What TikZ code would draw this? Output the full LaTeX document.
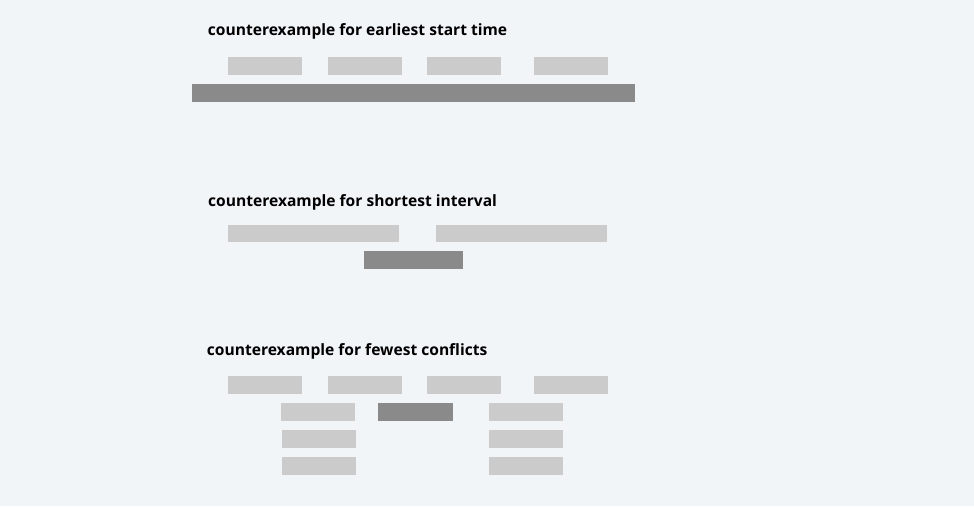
\documentclass[tikz,border=0pt]{standalone}
\usepackage{fontspec}
\setmainfont{Open Sans}
\definecolor{bg}{HTML}{F2F5F8}
\definecolor{barlight}{HTML}{CBCBCB}
\definecolor{bardark}{HTML}{8A8A8A}
\begin{document}
\begin{tikzpicture}[x=1pt,y=-1pt,
  title/.style={anchor=base west,inner sep=0pt,font=\fontsize{15.6}{18}\selectfont\bfseries,text=black},
  lightbar/.style={fill=barlight},
  darkbar/.style={fill=bardark}]
\fill[bg] (0,0) rectangle (974,506);
\useasboundingbox (0,0) rectangle (974,506);
% section 1
\node[title] (t1) at (207.7,35) {counterexample for earliest start time};
\fill[lightbar] (228.3,57.3) rectangle (302,75);
\fill[lightbar] (327.7,57.3) rectangle (401.7,75);
\fill[lightbar] (427,57.3) rectangle (501,75);
\fill[lightbar] (534,57.3) rectangle (608,75);
\fill[darkbar] (192.3,84) rectangle (634.7,101.7);
% section 2
\node[title] (t2) at (208,206) {counterexample for shortest interval};
\fill[lightbar] (228,224.7) rectangle (399.3,242.3);
\fill[lightbar] (435.7,224.7) rectangle (607,242.3);
\fill[darkbar] (363.7,251) rectangle (463,269);
% section 3
\node[title] (t3) at (206.7,355) {counterexample for fewest conflicts};
\fill[lightbar] (228.3,376) rectangle (302,393.7);
\fill[lightbar] (327.7,376) rectangle (401.7,393.7);
\fill[lightbar] (427,376) rectangle (501,393.7);
\fill[lightbar] (534,376) rectangle (608,393.7);
\fill[lightbar] (281,403.3) rectangle (355,421.3);
\fill[darkbar] (378.3,403.3) rectangle (452.7,421.3);
\fill[lightbar] (488.7,403.3) rectangle (562.7,421.3);
\fill[lightbar] (282,430) rectangle (356,448);
\fill[lightbar] (488.7,430) rectangle (562.7,448);
\fill[lightbar] (282,457.3) rectangle (356,475.3);
\fill[lightbar] (488.7,457.3) rectangle (562.7,475.3);
\end{tikzpicture}
\end{document}
